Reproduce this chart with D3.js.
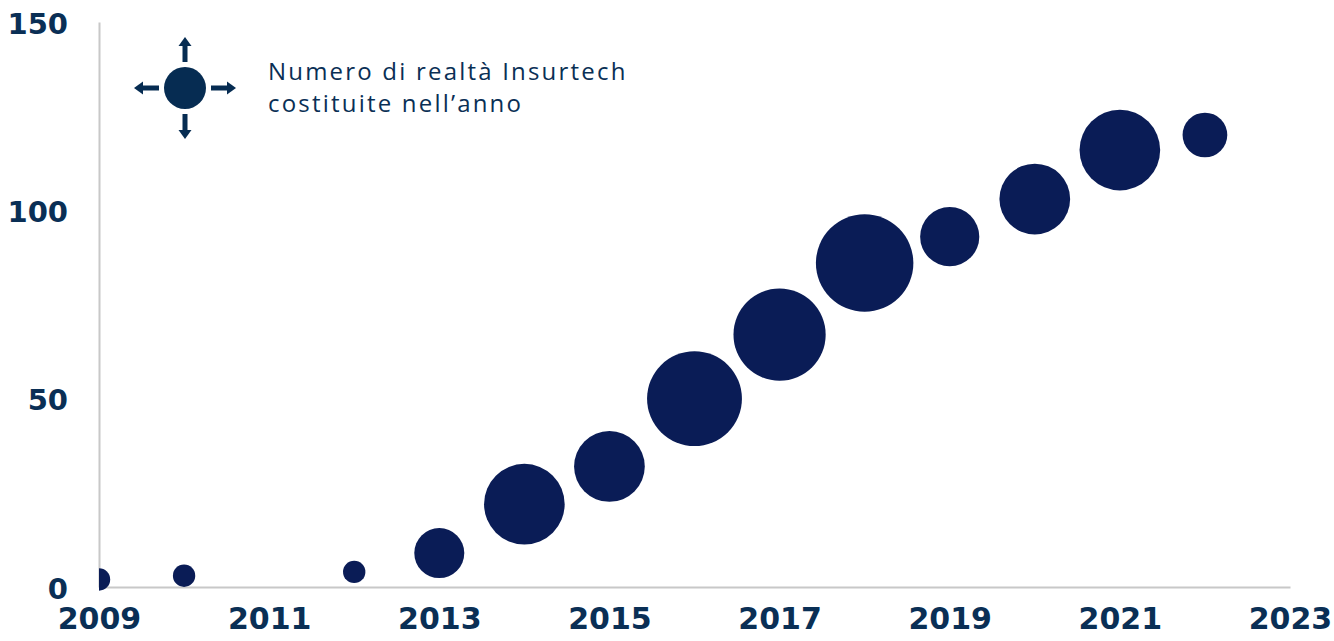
<!DOCTYPE html>
<html lang="it">
<head>
<meta charset="utf-8">
<title>Realtà Insurtech</title>
<script src="https://d3js.org/d3.v7.min.js"></script>
<style>
    body { margin: 0; background: #fff; }
    .tick text { font-family: "DejaVu Sans", sans-serif; font-weight: bold; fill: #0a2f55; }
</style>
</head>
<body>
<div id="chart"></div>
<script>
// data
const years   = [2009, 2010, 2012, 2013, 2014, 2015, 2016, 2017, 2018, 2019, 2020, 2021, 2022];
const totals  = [2, 3, 4, 9, 22, 32, 50, 67, 86, 93, 103, 116, 120];   // y position
const founded = [1, 1, 1, 5, 13, 10, 18, 17, 19, 7, 10, 13, 4];         // bubble size
const xTicks  = [2009, 2011, 2013, 2015, 2017, 2019, 2021, 2023];
const yTicks  = [0, 50, 100, 150];
const legendLines = ['Numero di realtà Insurtech', 'costituite nell\u2019anno'];

const width = 1334, height = 641;
const plotLeft = 99, plotRight = 1290, plotTop = 22, plotBottom = 587;
const textColour = '#0a2f55';
const bubbleColour = '#0a1c56';

const svg = d3.select('#chart').append('svg')
    .attr('width', width)
    .attr('height', height);

const x = d3.scaleLinear().domain([2009, 2023]).range([plotLeft, plotRight]);
const y = d3.scaleLinear().domain([0, 150]).range([plotBottom, plotTop]);
const r = d3.scaleSqrt().domain([0, 20]).range([0, 50]);

// axes
const xAxis = svg.append('g')
    .attr('transform', `translate(0,${plotBottom})`)
    .call(d3.axisBottom(x).tickValues(xTicks).tickFormat(d3.format('d')).tickSize(0).tickPadding(21));
xAxis.selectAll('text').style('font-size', '30px');

const yAxis = svg.append('g')
    .attr('transform', `translate(${plotLeft},0)`)
    .call(d3.axisLeft(y).tickValues(yTicks).tickSize(0).tickPadding(31));
yAxis.selectAll('text').style('font-size', '29px').attr('dy', '0.38em');

svg.selectAll('.domain').attr('stroke', '#c8c8c8').attr('stroke-width', 2);

// bubbles, clipped at the y axis
svg.append('clipPath').attr('id', 'plot-clip')
    .append('rect')
    .attr('x', plotLeft).attr('y', 0)
    .attr('width', width - plotLeft).attr('height', height);

svg.append('g')
    .attr('clip-path', 'url(#plot-clip)')
    .selectAll('circle')
    .data(years)
    .enter()
    .append('circle')
    .attr('cx', d => x(d))
    .attr('cy', (d, i) => y(totals[i]))
    .attr('r', (d, i) => r(founded[i]))
    .attr('fill', bubbleColour);

// legend icon
const icon = svg.append('g').attr('transform', 'translate(185,88)');
icon.append('circle').attr('r', 21).attr('fill', '#062c52');
[0, 90, 180, 270].forEach(a => {
    const g = icon.append('g').attr('transform', `rotate(${a})`);
    g.append('rect').attr('x', -2.5).attr('y', -43).attr('width', 5).attr('height', 17).attr('fill', '#062c52');
    g.append('path').attr('d', 'M-6.5,-42 L0,-51 L6.5,-42 Z').attr('fill', '#062c52');
});

// legend text, one text per line
svg.selectAll('text.legend-line')
    .data(legendLines)
    .enter()
    .append('text')
    .attr('class', 'legend-line')
    .attr('x', 268)
    .attr('y', (d, i) => 80 + i * 32)
    .style('font-family', '"Open Sans", sans-serif')
    .style('font-size', '24px')
    .style('letter-spacing', '2.2px')
    .style('fill', textColour)
    .text(d => d);
</script>
</body>
</html>
